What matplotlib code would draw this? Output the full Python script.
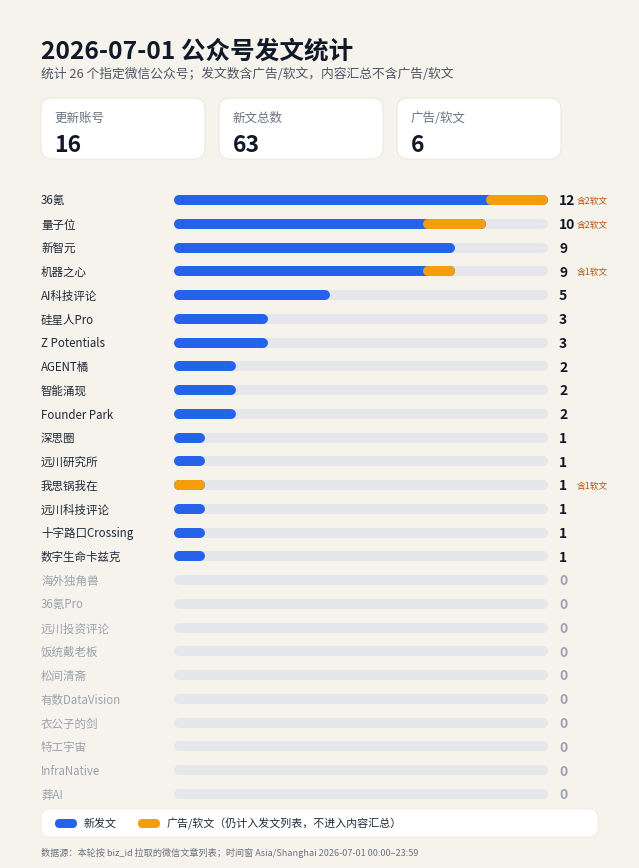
import matplotlib
matplotlib.use("Agg")
import matplotlib.pyplot as plt
from matplotlib.patches import FancyBboxPatch
from matplotlib import transforms

plt.rcParams['font.family'] = ['Noto Sans CJK SC', 'DejaVu Sans']

# ---------------- data ----------------
title = "2026-07-01 公众号发文统计"
subtitle = "统计 26 个指定微信公众号；发文数含广告/软文，内容汇总不含广告/软文"
card_labels = ["更新账号", "新文总数", "广告/软文"]

names = ["36氪", "量子位", "新智元", "机器之心", "AI科技评论", "硅星人Pro", "Z Potentials",
         "AGENT橘", "智能涌现", "Founder Park", "深思圈", "远川研究所", "我思锅我在",
         "远川科技评论", "十字路口Crossing", "数字生命卡兹克", "海外独角兽", "36氪Pro",
         "远川投资评论", "饭统戴老板", "松间清斋", "有数DataVision", "衣公子的剑",
         "特工宇宙", "InfraNative", "葬AI"]
totals = [12, 10, 9, 9, 5, 3, 3, 2, 2, 2, 1, 1, 1, 1, 1, 1, 0, 0, 0, 0, 0, 0, 0, 0, 0, 0]
ads = [2, 2, 0, 1, 0, 0, 0, 0, 0, 0, 0, 0, 1, 0, 0, 0, 0, 0, 0, 0, 0, 0, 0, 0, 0, 0]

legend_labels = ["新发文", "广告/软文（仍计入发文列表，不进入内容汇总）"]
footer = "数据源：本轮按 biz_id 拉取的微信文章列表；时间窗 Asia/Shanghai 2026-07-01 00:00–23:59"

card_values = [sum(1 for t in totals if t > 0), sum(totals), sum(ads)]

# ---------------- style ----------------
BG = "#F6F3EC"
BLUE = "#2563EB"
ORANGE = "#F59E0B"
TRACK = "#E5E7EB"
DARK = "#111827"
TEXT = "#1F2937"
GRAY = "#6B7280"
LIGHT = "#9CA3AF"
ANNOT = "#B45309"

W, H = 639, 868
fig = plt.figure(figsize=(W / 100, H / 100), dpi=100, facecolor=BG)
bg = fig.add_axes([0, 0, 1, 1])
bg.set_xlim(0, W)
bg.set_ylim(H, 0)
bg.axis("off")
bg.set_facecolor(BG)

bg.text(41, 51, title, fontsize=17.7, fontweight="bold", color=DARK, va="center", ha="left")
bg.text(41, 74.5, subtitle, fontsize=9.2, color="#4B5563", va="center", ha="left")

# cards
card_x = [41, 219, 397]
for cx, lab, val in zip(card_x, card_labels, card_values):
    bg.add_patch(FancyBboxPatch((cx, 98), 164, 61, boxstyle="round,pad=0,rounding_size=11",
                                facecolor="white", edgecolor="#ECE8DF", lw=0.8))
    bg.text(cx + 13.5, 118.5, lab, fontsize=9, color=GRAY, va="center", ha="left")
    bg.text(cx + 13.5, 146, str(val), fontsize=16.5, fontweight="bold", color=DARK,
            va="center", ha="left")

# bars
n = len(names)
row = 23.76
top = 200 - row / 2
ax = fig.add_axes([174 / W, 1 - (top + n * row) / H, 374 / W, n * row / H])
ax.set_facecolor("none")
vmax = max(totals)
ax.set_xlim(0, vmax)
ax.set_ylim(n - 0.5, -0.5)
ax.axis("off")

lw_px = 10
lw = lw_px * 0.72
r = (lw_px / 2) / 374 * vmax

trans_lab = transforms.blended_transform_factory(fig.transFigure, ax.transData)
trans_lab = transforms.offset_copy(trans_lab, fig=fig, x=0, y=-1.3, units="dots")
for i, (name, t, a) in enumerate(zip(names, totals, ads)):
    ax.plot([r, vmax - r], [i, i], color=TRACK, lw=lw, solid_capstyle="round", zorder=1)
    if t > 0:
        ax.plot([r, t - r], [i, i], color=BLUE, lw=lw, solid_capstyle="round", zorder=2)
    if a > 0:
        ax.plot([t - a + r, t - r], [i, i], color=ORANGE, lw=lw, solid_capstyle="round", zorder=3)
    active = t > 0
    fig.text(41 / W, i, name, transform=trans_lab, fontsize=8.3,
             color=TEXT if active else LIGHT, va="center", ha="left")
    fig.text(559 / W, i, str(t), transform=trans_lab, fontsize=10, fontweight="bold",
             color=DARK if active else LIGHT, va="center", ha="left")
    if a > 0:
        fig.text(577 / W, i, f"含{a}软文", transform=trans_lab, fontsize=6.3,
                 color=ANNOT, va="center", ha="left")

# legend
bg.add_patch(FancyBboxPatch((41, 809), 557, 28, boxstyle="round,pad=0,rounding_size=9",
                            facecolor="white", edgecolor="#EFEBE3", lw=0.6))
for x0, col, lab in [(55, BLUE, legend_labels[0]), (138, ORANGE, legend_labels[1])]:
    bg.add_patch(FancyBboxPatch((x0, 819), 22, 9, boxstyle="round,pad=0,rounding_size=4.5",
                                facecolor=col, edgecolor="none"))
    bg.text(x0 + 29, 823.5, lab, fontsize=7.9, color=TEXT, va="center", ha="left")

bg.text(41, 852.5, footer, fontsize=6.55, color=GRAY, va="center", ha="left")

fig.savefig("out.png", dpi=100, facecolor=BG)
